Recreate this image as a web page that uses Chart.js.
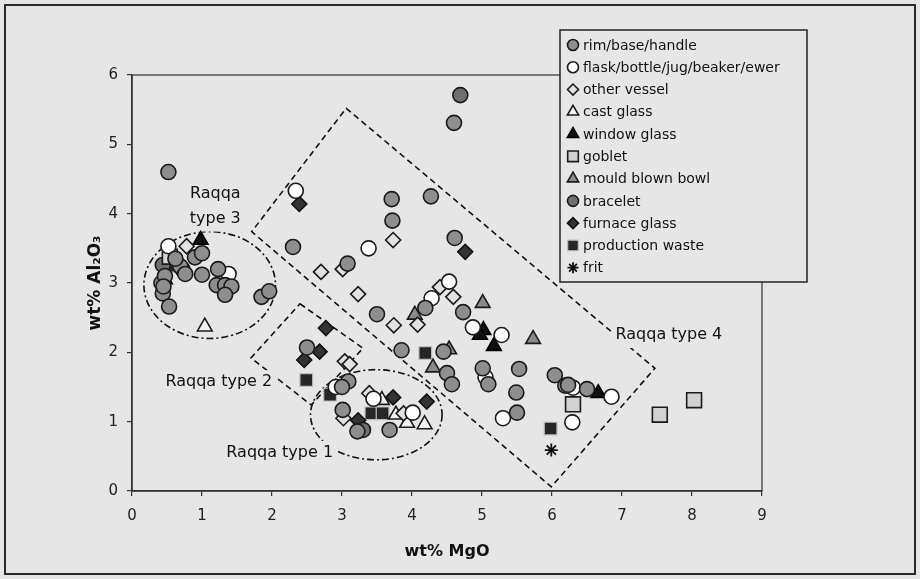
<!DOCTYPE html>
<html>
<head>
<meta charset="utf-8">
<script src="https://cdn.jsdelivr.net/npm/chart.js@4/dist/chart.umd.min.js"></script>
<style>
  html, body { margin: 0; padding: 0; background: #e6e6e7; }
  canvas { display: block; }
</style>
</head>
<body>
<canvas id="chart" width="920" height="579"></canvas>
<script>
// values: [MgO wt%, Al2O3 wt%]
const rimBaseHandle = [
  [0.52, 4.60], [0.42, 3.00], [0.44, 2.85], [0.53, 2.66], [0.69, 3.24], [0.76, 3.13],
  [0.90, 3.37], [1.00, 3.43], [1.00, 3.12], [1.23, 3.20], [1.21, 2.97], [1.33, 2.97],
  [1.42, 2.95], [1.33, 2.83], [1.85, 2.80], [1.96, 2.88], [0.47, 3.10], [0.62, 3.35],
  [0.45, 2.95], [2.30, 3.52], [3.71, 4.21], [3.72, 3.90], [4.27, 4.25], [4.60, 5.31],
  [4.61, 3.65], [3.08, 3.28], [3.50, 2.55], [4.19, 2.64], [4.73, 2.58], [4.45, 2.01],
  [4.50, 1.70], [4.57, 1.54], [5.01, 1.77], [5.09, 1.54], [5.53, 1.76], [5.49, 1.42],
  [5.50, 1.13], [6.04, 1.67], [6.19, 1.52], [6.23, 1.53], [6.50, 1.47], [3.85, 2.03],
  [2.50, 2.07], [3.09, 1.58], [3.00, 1.50], [3.01, 1.17], [3.22, 0.86], [3.68, 0.88]
];
const flaskBottle = [
  [2.34, 4.33], [3.38, 3.50], [4.53, 3.02], [4.28, 2.78], [4.87, 2.36], [5.28, 2.25],
  [5.05, 1.64], [5.30, 1.05], [6.30, 1.49], [6.85, 1.36], [6.29, 0.99], [2.91, 1.50],
  [4.01, 1.13], [0.52, 3.53], [1.38, 3.13], [0.72, 3.20], [3.45, 1.33]
];
const otherVessel = [
  [0.78, 3.53], [3.73, 3.62], [2.70, 3.16], [3.01, 3.20], [3.23, 2.84], [3.74, 2.39],
  [4.08, 2.40], [4.40, 2.94], [4.59, 2.80], [3.04, 1.87], [3.11, 1.83], [3.02, 1.05],
  [3.39, 1.41], [3.88, 1.12]
];
const castGlass = [[1.04, 2.37], [3.57, 1.31], [3.77, 1.10], [3.93, 0.98], [4.18, 0.96]];
const windowGlass = [[0.98, 3.62], [0.47, 3.05], [5.02, 2.32], [4.97, 2.25], [5.17, 2.09], [6.66, 1.41]];
const goblet = [[0.54, 3.38], [6.30, 1.25], [7.54, 1.10], [8.03, 1.31]];
const mouldBlownBowl = [[4.04, 2.54], [5.01, 2.71], [5.73, 2.19], [4.53, 2.04], [4.30, 1.78]];
const bracelet = [[4.69, 5.71], [0.44, 3.26], [3.30, 0.88]];
const furnaceGlass = [
  [2.39, 4.14], [4.76, 3.45], [2.77, 2.35], [2.68, 2.01], [2.46, 1.89], [3.73, 1.35],
  [3.23, 1.02], [4.21, 1.29]
];
const productionWaste = [[0.55, 3.25], [4.19, 1.99], [2.49, 1.60], [2.83, 1.39], [3.42, 1.12], [3.58, 1.12], [5.98, 0.90]];
const frit = [[5.99, 0.59]];

const xTicks = [0, 1, 2, 3, 4, 5, 6, 7, 8, 9];
const yTicks = [0, 1, 2, 3, 4, 5, 6];

// group outlines, in data units
const type4Outline = [[3.06, 5.52], [7.47, 1.77], [5.99, 0.06], [1.71, 3.74]];
const type2Outline = [[2.40, 2.70], [3.30, 2.06], [2.56, 1.24], [1.70, 1.92]];
const type3Ellipse = { cx: 1.11, cy: 2.97, rx: 0.94, ry: 0.77 };
const type1Ellipse = { cx: 3.49, cy: 1.10, rx: 0.94, ry: 0.65 };
const groupLabels = [
  { text: ['Raqqa', 'type 3'], x: 1.19, y: 4.29 },
  { text: ['Raqqa type 2'], x: 1.24, y: 1.57 },
  { text: ['Raqqa type 1'], x: 2.11, y: 0.55 },
  { text: ['Raqqa type 4'], x: 7.67, y: 2.25 }
];

const BG = '#e6e6e7';
const INK = '#1a1a1a';
const FONT = "'DejaVu Sans', Verdana, sans-serif";

function pts(arr) { return arr.map(p => ({ x: p[0], y: p[1] })); }

function series(label, data, style, radius, fill, border, bw) {
  return {
    label: label, data: pts(data), pointStyle: style, pointRadius: radius,
    pointHoverRadius: radius, backgroundColor: fill, borderColor: border,
    borderWidth: bw === undefined ? 1.6 : bw
  };
}

const datasets = [
  series('rim/base/handle', rimBaseHandle, 'circle', 7.5, '#8e8e8e', INK),
  series('flask/bottle/jug/beaker/ewer', flaskBottle, 'circle', 7.5, '#ffffff', INK),
  series('other vessel', otherVessel, 'rectRot', 7.5, '#e2e2e2', INK),
  series('cast glass', castGlass, 'triangle', 8.5, '#f2f2f2', INK),
  series('window glass', windowGlass, 'triangle', 8.5, '#111111', '#000000'),
  series('goblet', goblet, 'rect', 10.5, '#d2d2d2', INK),
  series('mould blown bowl', mouldBlownBowl, 'triangle', 8.5, '#8a8a8a', INK),
  series('bracelet', bracelet, 'circle', 7.5, '#6f6f6f', INK),
  series('furnace glass', furnaceGlass, 'rectRot', 7.5, '#333333', '#111111'),
  series('production waste', productionWaste, 'rect', 9, '#262626', '#bdbdbd', 1.2),
  series('frit', frit, 'star', 6.5, '#111111', '#111111', 1.8)
];

const backdrop = {
  id: 'backdrop',
  beforeDraw(chart) {
    const ctx = chart.ctx;
    ctx.save();
    ctx.fillStyle = BG;
    ctx.fillRect(0, 0, chart.width, chart.height);
    ctx.strokeStyle = '#2a2a2a';
    ctx.lineWidth = 2;
    ctx.strokeRect(5, 5, chart.width - 10, chart.height - 10);
    const a = chart.chartArea;
    ctx.strokeStyle = '#333';
    ctx.lineWidth = 1.2;
    ctx.strokeRect(a.left, a.top, a.right - a.left, a.bottom - a.top);
    ctx.restore();
  }
};

const groups = {
  id: 'groups',
  beforeDatasetsDraw(chart) {
    const ctx = chart.ctx;
    const xs = chart.scales.x, ys = chart.scales.y;
    const px = v => xs.getPixelForValue(v), py = v => ys.getPixelForValue(v);
    ctx.save();
    ctx.strokeStyle = '#111';
    ctx.lineWidth = 1.6;

    ctx.setLineDash([6, 4]);
    [type4Outline, type2Outline].forEach(poly => {
      ctx.beginPath();
      poly.forEach((p, i) => i ? ctx.lineTo(px(p[0]), py(p[1])) : ctx.moveTo(px(p[0]), py(p[1])));
      ctx.closePath();
      ctx.stroke();
    });

    ctx.setLineDash([7, 3, 2, 3]);
    [type3Ellipse, type1Ellipse].forEach(e => {
      const cx = px(e.cx), cy = py(e.cy);
      const rx = px(e.cx + e.rx) - cx, ry = cy - py(e.cy + e.ry);
      ctx.beginPath();
      ctx.ellipse(cx, cy, rx, ry, 0, 0, Math.PI * 2);
      ctx.stroke();
    });
    ctx.setLineDash([]);

    ctx.font = '16px ' + FONT;
    ctx.textAlign = 'center';
    ctx.textBaseline = 'middle';
    groupLabels.forEach(l => {
      const cx = px(l.x);
      const cy = py(l.y);
      const lines = l.text;
      const top = cy - 12;
      const w = Math.max(...lines.map(t => ctx.measureText(t).width));
      ctx.fillStyle = BG;
      ctx.fillRect(cx - w / 2 - 3, top, w + 6, lines.length * 25);
      ctx.fillStyle = '#111';
      lines.forEach((t, i) => ctx.fillText(t, cx, cy + i * 25));
    });
    ctx.restore();
  }
};

const boxLegend = {
  id: 'boxLegend',
  afterDraw(chart) {
    const ctx = chart.ctx;
    const box = { left: 560, top: 30, right: 807, bottom: 282 };
    ctx.save();
    ctx.fillStyle = BG;
    ctx.fillRect(box.left, box.top, box.right - box.left, box.bottom - box.top);
    ctx.strokeStyle = '#222';
    ctx.lineWidth = 1.5;
    ctx.strokeRect(box.left, box.top, box.right - box.left, box.bottom - box.top);
    ctx.font = '14px ' + FONT;
    ctx.textBaseline = 'middle';
    chart.data.datasets.forEach((ds, i) => {
      const y = 45 + i * 22.27;
      const x = 573;
      ctx.fillStyle = ds.backgroundColor;
      ctx.strokeStyle = ds.borderColor;
      ctx.lineWidth = ds.borderWidth;
      const r = ds.pointStyle === 'rect' ? 7.5 : (ds.pointStyle === 'triangle' ? 6.5 : 5.5);
      Chart.helpers.drawPoint(ctx, { pointStyle: ds.pointStyle, rotation: 0, radius: r, borderWidth: ds.borderWidth }, x, y);
      ctx.fillStyle = '#111';
      ctx.fillText(ds.label, 583, y + 1);
    });
    ctx.restore();
  }
};

Chart.defaults.font.family = FONT;

new Chart(document.getElementById('chart'), {
  type: 'scatter',
  data: { datasets: datasets },
  options: {
    responsive: false,
    devicePixelRatio: 1,
    animation: false,
    events: [],
    layout: { padding: { top: 75, right: 158, bottom: 0, left: 0 } },
    plugins: { legend: { display: false }, tooltip: { enabled: false } },
    scales: {
      x: {
        type: 'linear', min: 0, max: 9,
        afterFit(s) { s.height = 88; },
        afterBuildTicks(s) { s.ticks = xTicks.map(v => ({ value: v })); },
        grid: { drawOnChartArea: false, drawTicks: true, tickLength: 5, color: '#333', lineWidth: 1.2 },
        border: { display: true, color: '#333', width: 1.5 },
        ticks: { padding: 11, color: '#222', font: { size: 15 } },
        title: { display: true, text: 'wt% MgO', color: '#111', font: { size: 16, weight: 'bold' }, padding: { top: 0, bottom: 18 } }
      },
      y: {
        type: 'linear', min: 0, max: 6,
        afterFit(s) { s.width = 132; },
        afterBuildTicks(s) { s.ticks = yTicks.map(v => ({ value: v })); },
        grid: { drawOnChartArea: false, drawTicks: true, tickLength: 5, color: '#333', lineWidth: 1.2 },
        border: { display: true, color: '#333', width: 1.5 },
        ticks: { padding: 9, color: '#222', font: { size: 15 } },
        title: { display: true, text: 'wt% Al₂O₃', color: '#111', font: { size: 17, weight: 'bold' }, padding: { top: 85, bottom: 0 } }
      }
    }
  },
  plugins: [backdrop, groups, boxLegend]
});
</script>
</body>
</html>
